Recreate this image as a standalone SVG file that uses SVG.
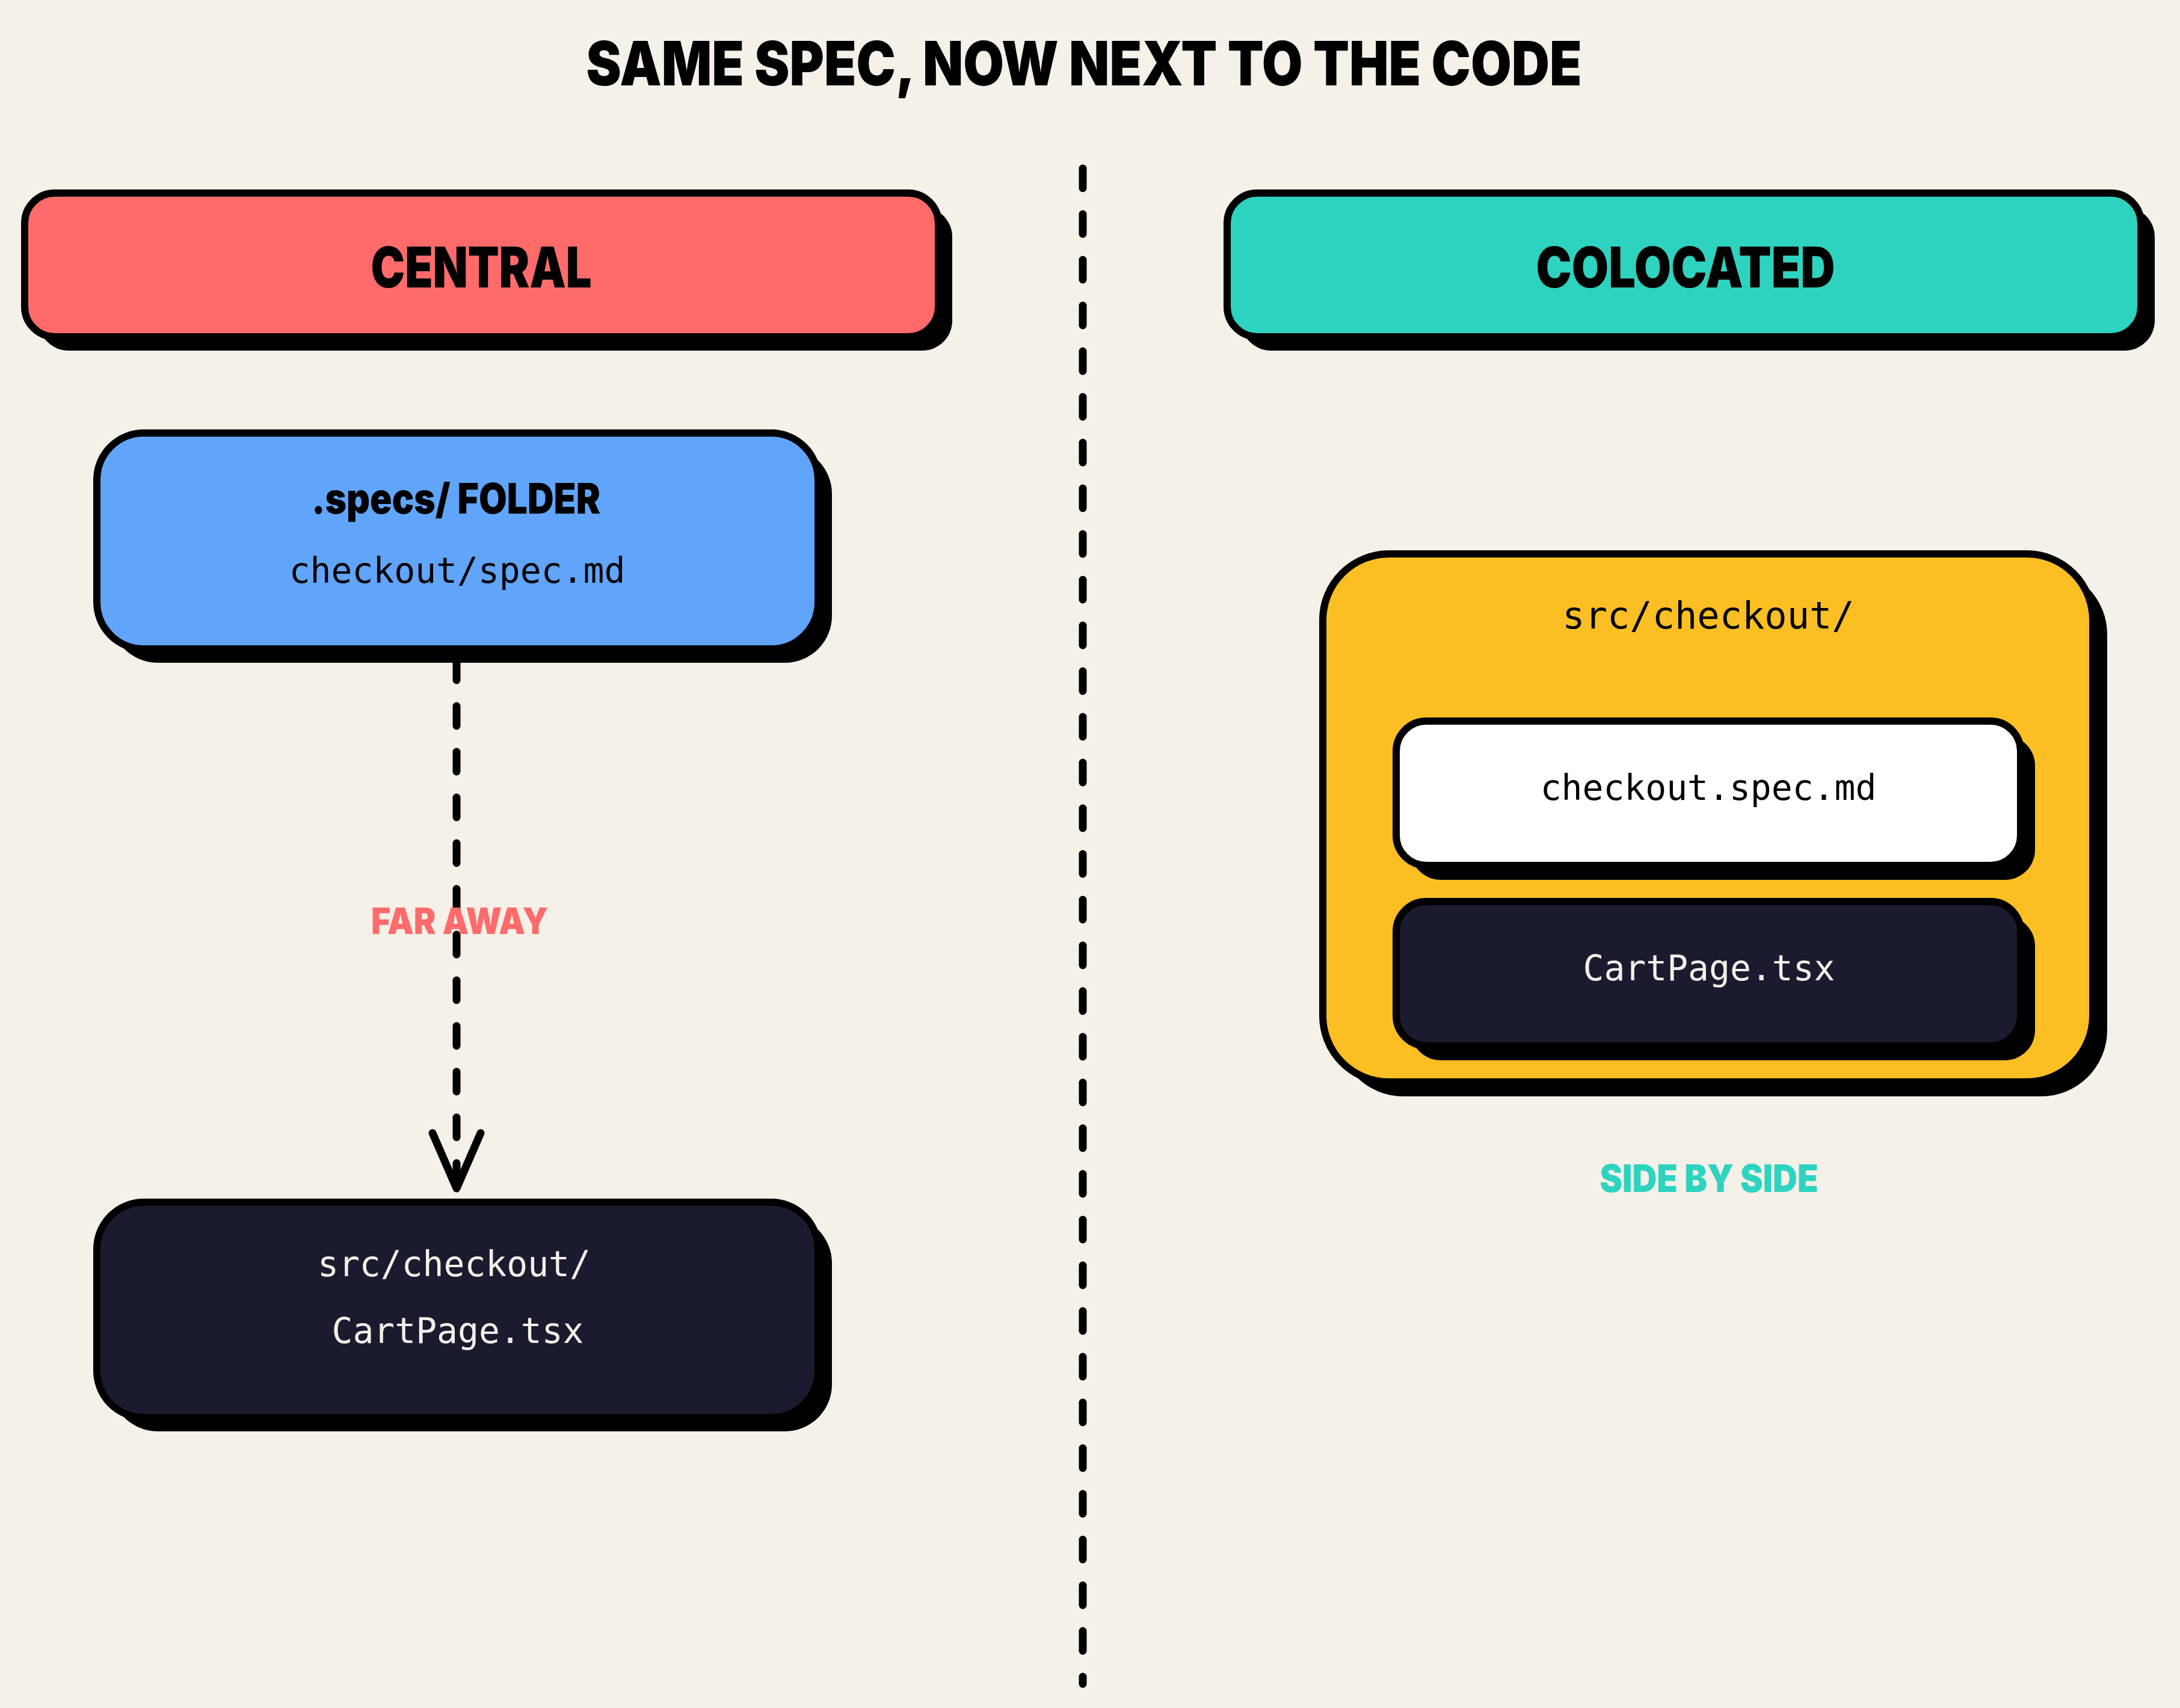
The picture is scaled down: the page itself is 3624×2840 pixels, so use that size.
<svg xmlns="http://www.w3.org/2000/svg" width="3624" height="2840" viewBox="0 0 3624 2840">
<style>
.bg{fill:#F5F0E8}
.shadow{fill:#000}
.box{stroke:#000;stroke-width:12}
.disp{font-family:Inter,"Liberation Sans",sans-serif;font-weight:900;text-anchor:middle}
.mono{font-family:"DejaVu Sans Mono","Liberation Mono",monospace;font-size:58px;text-anchor:middle}
.mono-lg{font-size:62px}
.dash{fill:none;stroke:#000;stroke-width:13;stroke-linecap:round;stroke-dasharray:33 43}
</style>
<rect class="bg" x="0" y="0" width="3624" height="2840"/>
<text class="disp" x="1802" y="142" font-size="102" textLength="1655" lengthAdjust="spacingAndGlyphs" fill="#000">SAME SPEC, NOW NEXT TO THE CODE</text>

<g id="connectors">
  <line class="dash" x1="1800" y1="280" x2="1800" y2="2800"/>
  <line class="dash" x1="759" y1="1098" x2="759" y2="1975"/>
  <polyline points="719,1884 759,1976 799,1884" fill="none" stroke="#000" stroke-width="13" stroke-linecap="round" stroke-linejoin="round"/>
</g>

<g id="central-header">
  <rect class="shadow" x="64" y="344" width="1519" height="239" rx="50"/>
  <rect class="box" x="41" y="321" width="1519" height="239" rx="50" fill="#FF6B6B"/>
  <text class="disp" x="800" y="478" font-size="94" textLength="367" lengthAdjust="spacingAndGlyphs" fill="#000">CENTRAL</text>
</g>

<g id="colocated-header">
  <rect class="shadow" x="2063" y="344" width="1519" height="239" rx="50"/>
  <rect class="box" x="2040" y="321" width="1519" height="239" rx="50" fill="#2ED3BF"/>
  <text class="disp" x="2802" y="478" font-size="94" textLength="497" lengthAdjust="spacingAndGlyphs" fill="#000">COLOCATED</text>
</g>

<g id="specs-folder">
  <rect class="shadow" x="184" y="743" width="1199" height="359" rx="78"/>
  <rect class="box" x="161" y="720" width="1199" height="359" rx="78" fill="#60A5FA"/>
  <text class="disp" x="758" y="854" font-size="70" textLength="480" lengthAdjust="spacingAndGlyphs" fill="#000">.specs/ FOLDER</text>
  <text class="mono" x="760" y="969" fill="#000">checkout/spec.md</text>
</g>

<g id="far-away-label">
  <text class="disp" x="764" y="1553" font-size="60" textLength="294" lengthAdjust="spacingAndGlyphs" fill="#FF6B6B">FAR AWAY</text>
</g>

<g id="src-cartpage">
  <rect class="shadow" x="184" y="2022" width="1199" height="358" rx="78"/>
  <rect class="box" x="161" y="1999" width="1199" height="358" rx="78" fill="#1B1B2F"/>
  <text class="mono" x="755" y="2122" fill="#F5F0E8">src/checkout/</text>
  <text class="mono" x="761" y="2233" fill="#F5F0E8">CartPage.tsx</text>
</g>

<g id="src-checkout-folder">
  <rect class="shadow" x="2223" y="945" width="1280" height="878" rx="110"/>
  <rect class="box" x="2199" y="921" width="1280" height="878" rx="110" fill="#FBBF24"/>
  <text class="mono mono-lg" x="2840" y="1045" fill="#000">src/checkout/</text>
</g>

<g id="checkout-spec">
  <rect class="shadow" x="2345" y="1223" width="1038" height="240" rx="50"/>
  <rect class="box" x="2321" y="1199" width="1038" height="240" rx="50" fill="#FFFFFF"/>
  <text class="mono" x="2840" y="1330" fill="#000">checkout.spec.md</text>
</g>

<g id="cartpage">
  <rect class="shadow" x="2345" y="1523" width="1038" height="240" rx="50"/>
  <rect class="box" x="2321" y="1499" width="1038" height="240" rx="50" fill="#1B1B2F"/>
  <text class="mono" x="2841" y="1630" fill="#F5F0E8">CartPage.tsx</text>
</g>

<g id="side-by-side-label">
  <text class="disp" x="2841" y="1982" font-size="63" textLength="363" lengthAdjust="spacingAndGlyphs" fill="#2ED3BF">SIDE BY SIDE</text>
</g>
</svg>
